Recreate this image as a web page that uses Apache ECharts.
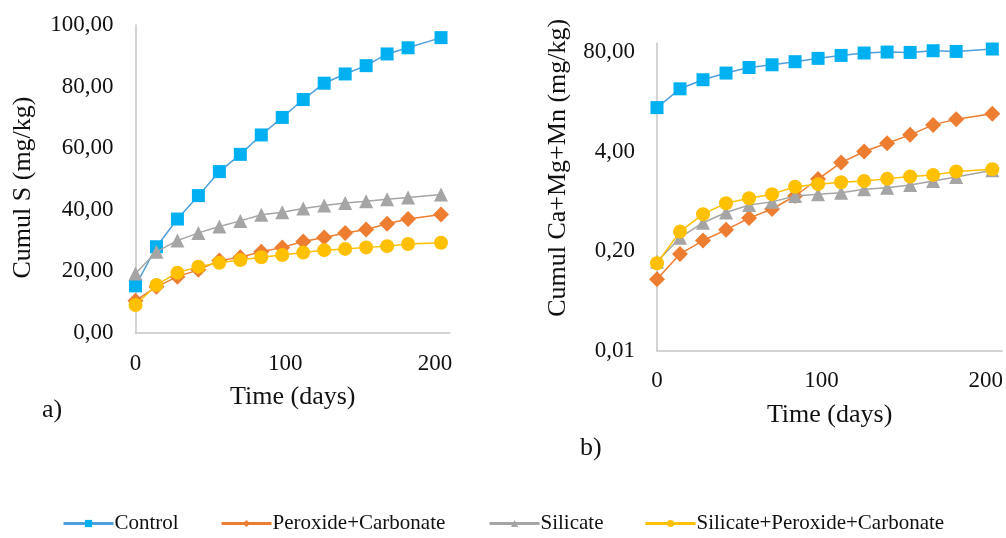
<!DOCTYPE html>
<html>
<head>
<meta charset="utf-8">
<script src="https://cdn.jsdelivr.net/npm/echarts@6/dist/echarts.min.js"></script>
<style>
html,body{margin:0;padding:0;background:#fff;}
#chart{width:1006px;height:538px;}
</style>
</head>
<body>
<div id="chart"></div>
<script>
// ---- data ----
var days = [0, 14, 28, 42, 56, 70, 84, 98, 112, 126, 140, 154, 168, 182, 204];
var seriesNames = ['Control', 'Peroxide+Carbonate', 'Silicate', 'Silicate+Peroxide+Carbonate'];

// a) Cumul S (mg/kg)
var sControl = [15.3, 28.0, 37.0, 44.6, 52.4, 58.0, 64.3, 70.0, 75.8, 81.1, 84.1, 86.8, 90.6, 92.6, 95.9];
var sPerox   = [10.5, 15.0, 18.3, 20.5, 23.5, 24.6, 26.4, 27.8, 29.7, 31.0, 32.5, 33.6, 35.5, 37.0, 38.5];
var sSil     = [19.3, 26.4, 30.0, 32.5, 34.6, 36.4, 38.4, 39.2, 40.4, 41.4, 42.2, 42.8, 43.4, 44.0, 45.0];
var sSPC     = [9.1, 15.6, 19.6, 21.5, 22.8, 23.7, 24.6, 25.3, 26.1, 26.9, 27.3, 27.8, 28.2, 28.9, 29.3];

// b) Cumul Ca+Mg+Mn (mg/kg), log axis base 20
var cControl = [15.0, 26.4, 34.7, 42.4, 50.1, 54.4, 59.7, 66.0, 72.1, 77.5, 79.8, 78.9, 83.0, 81.3, 87.4];
var cPerox   = [0.086, 0.184, 0.275, 0.379, 0.54, 0.71, 1.05, 1.75, 2.87, 4.0, 5.14, 6.61, 8.92, 10.6, 12.5];
var cSil     = [0.145, 0.30, 0.47, 0.64, 0.80, 0.88, 1.05, 1.11, 1.16, 1.29, 1.35, 1.46, 1.65, 1.86, 2.28];
var cSPC     = [0.139, 0.36, 0.608, 0.845, 0.98, 1.11, 1.39, 1.50, 1.59, 1.65, 1.76, 1.89, 1.98, 2.19, 2.35];

var logMin = 0.01, logBase = 20;
var yTicksLeft = [0, 20, 40, 60, 80, 100];
var yTicksRight = [0.01, 0.20, 4.00, 80.00];
var xTicks = [0, 100, 200];

// ---- styling ----
var FONT = '"Liberation Serif", "Times New Roman", serif';
var TXT = '#111';
var AXC = '#c6c6c6';
var markerColors = ['#00B0F0', '#ED7D31', '#A5A5A5', '#FFC000'];
var lineColors = ['#4F9FDD', '#ED7D31', '#A5A5A5', '#FFC000'];
var symbols = ['rect', 'diamond', 'triangle', 'circle'];
var symbolSizes = [13, 16, 14, 14];

function toLog(v) { return Math.log(v / logMin) / Math.log(logBase); }
function fmtComma(v) { return v.toFixed(2).replace('.', ','); }

function pairs(vals, tf) {
  return days.map(function (d, i) { return [d, tf ? tf(vals[i]) : vals[i]]; });
}

function mkSeries(idx, vals, gi, tf) {
  return {
    name: seriesNames[idx],
    type: 'line',
    xAxisIndex: gi, yAxisIndex: gi,
    data: pairs(vals, tf),
    symbol: symbols[idx],
    symbolSize: symbolSizes[idx],
    showSymbol: true,
    lineStyle: { color: lineColors[idx], width: 1.5 },
    itemStyle: { color: markerColors[idx] },
    emphasis: { disabled: true },
    animation: false,
    z: 2 + idx
  };
}

var xAxisCommon = function (gi) {
  return {
    type: 'value', gridIndex: gi, min: 0, max: 210, interval: 100,
    axisLine: { show: true, onZero: false, lineStyle: { color: AXC, width: 1.5 } },
    axisTick: { show: false },
    splitLine: { show: false },
    axisLabel: {
      fontFamily: FONT, fontSize: 23, color: TXT, margin: 19,
      formatter: function (v) { return xTicks.indexOf(v) >= 0 ? String(v) : ''; }
    },
    name: 'Time (days)', nameLocation: 'middle', nameGap: 51,
    nameTextStyle: { fontFamily: FONT, fontSize: 26, color: TXT }
  };
};

var legends = [
  { left: 62, name: seriesNames[0] },
  { left: 220, name: seriesNames[1] },
  { left: 488, name: seriesNames[2] },
  { left: 644, name: seriesNames[3] }
].map(function (l) {
  return {
    data: [l.name], left: l.left, top: 513, padding: 0,
    itemWidth: 50, itemHeight: 9, itemGap: 0,
    lineStyle: { width: 3 },
    textStyle: { fontFamily: FONT, fontSize: 21, color: TXT, padding: [0, 0, 0, -4] },
    selectedMode: false
  };
});

var option = {
  animation: false,
  backgroundColor: '#fff',
  legend: legends,
  grid: [
    { left: 135.5, top: 25, width: 314.5, height: 308 },
    { left: 657, top: 43, width: 346, height: 307.7 }
  ],
  xAxis: [xAxisCommon(0), xAxisCommon(1)],
  yAxis: [
    {
      type: 'value', gridIndex: 0, min: 0, max: 100, interval: 20,
      axisLine: { show: true, lineStyle: { color: AXC, width: 1.5 } },
      axisTick: { show: false }, splitLine: { show: false },
      axisLabel: { fontFamily: FONT, fontSize: 23, color: TXT, margin: 22,
        formatter: function (v) { return yTicksLeft.indexOf(v) >= 0 ? fmtComma(v) : ''; } },
      name: 'Cumul S (mg/kg)', nameLocation: 'middle', nameGap: 99,
      nameTextStyle: { fontFamily: FONT, fontSize: 26, color: TXT, padding: [0, 17, 0, 0] }
    },
    {
      type: 'value', gridIndex: 1, min: 0, max: 3.09, interval: 1,
      axisLine: { show: true, lineStyle: { color: AXC, width: 1.5 } },
      axisTick: { show: false }, splitLine: { show: false },
      axisLabel: { fontFamily: FONT, fontSize: 23, color: TXT, margin: 22, showMaxLabel: false,
        formatter: function (t) {
          if (Math.abs(t - Math.round(t)) > 1e-6) return '';
          var v = yTicksRight[Math.round(t)];
          return v === undefined ? '' : fmtComma(v);
        } },
      name: 'Cumul Ca+Mg+Mn (mg/kg)', nameLocation: 'middle', nameGap: 86,
      nameTextStyle: { fontFamily: FONT, fontSize: 26, color: TXT, padding: [0, 0, 0, 58] }
    }
  ],
  graphic: [
    { type: 'text', left: 42, top: 397, style: { text: 'a)', font: '26px ' + FONT, fill: TXT } },
    { type: 'text', left: 580, top: 435, style: { text: 'b)', font: '26px ' + FONT, fill: TXT } }
  ],
  series: [
    mkSeries(0, sControl, 0), mkSeries(1, sPerox, 0), mkSeries(2, sSil, 0), mkSeries(3, sSPC, 0),
    mkSeries(0, cControl, 1, toLog), mkSeries(1, cPerox, 1, toLog), mkSeries(2, cSil, 1, toLog), mkSeries(3, cSPC, 1, toLog)
  ]
};

var chart = echarts.init(document.getElementById('chart'), null, { renderer: 'canvas' });
chart.setOption(option);
</script>
</body>
</html>
